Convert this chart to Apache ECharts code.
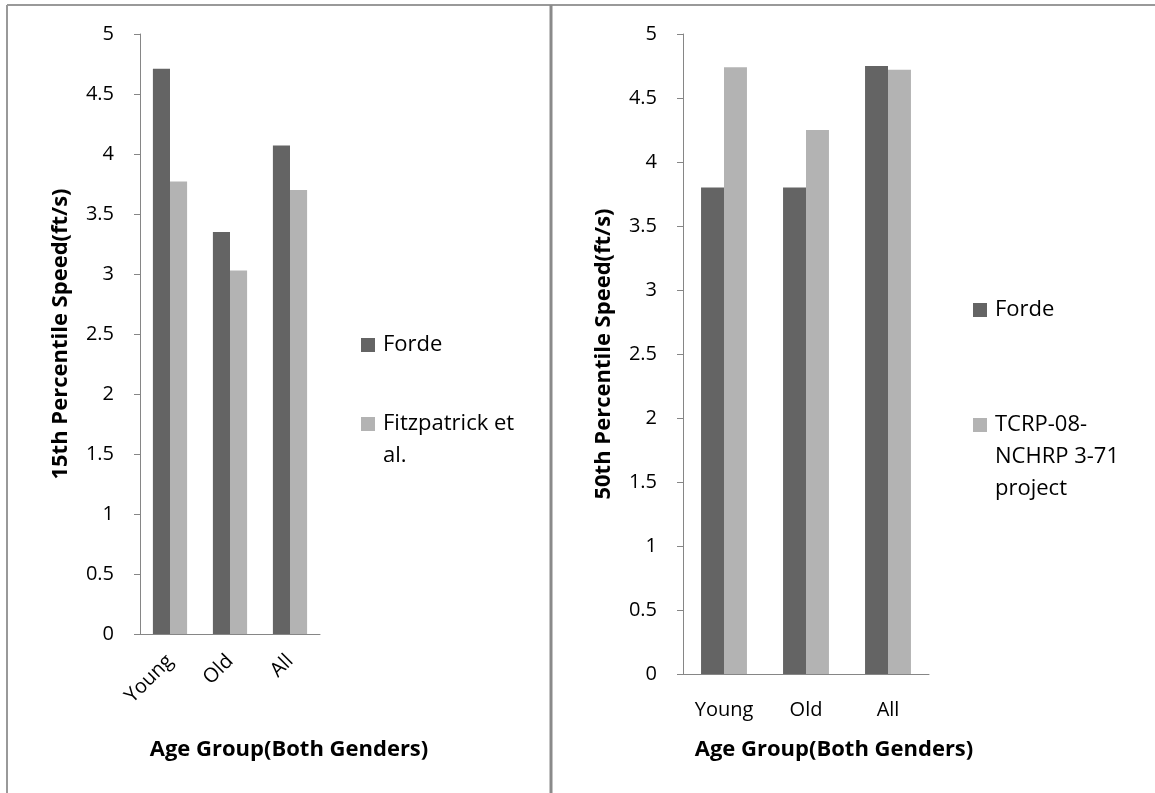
<!DOCTYPE html>
<html>
<head>
<meta charset="utf-8">
<script src="https://cdn.jsdelivr.net/npm/echarts@6/dist/echarts.min.js"></script>
<style>
html, body { margin: 0; padding: 0; background: #fff; }
#main { width: 1155px; height: 793px; }
</style>
</head>
<body>
<div id="main"></div>
<script>
// data
var categories = ['Young', 'Old', 'All'];

var leftNames = ['Forde', 'Fitzpatrick et al.'];
var leftForde = [4.71, 3.35, 4.07];
var leftFitz = [3.77, 3.03, 3.70];

var rightNames = ['Forde', 'TCRP-08-NCHRP 3-71 project'];
var rightForde = [3.80, 3.80, 4.75];
var rightTcrp = [4.74, 4.25, 4.72];

var leftYTitle = '15th Percentile Speed(ft/s)';
var rightYTitle = '50th Percentile Speed(ft/s)';
var xTitle = 'Age Group(Both Genders)';

var darkGray = '#646464';
var lightGray = '#b3b3b3';
var axisGray = '#868686';
var font = 'Open Sans';

function yAxis(gridIndex, title) {
    return {
        type: 'value',
        gridIndex: gridIndex,
        min: 0,
        max: 5,
        interval: 0.5,
        name: title,
        nameLocation: 'middle',
        nameGap: 68,
        nameTextStyle: { fontFamily: font, fontSize: 22, fontWeight: 'bold', color: '#000' },
        axisLine: { show: true, lineStyle: { color: axisGray, width: 1 } },
        axisTick: { show: true, length: 6, lineStyle: { color: axisGray } },
        splitLine: { show: false },
        axisLabel: { fontFamily: font, fontSize: 20, color: '#000', margin: 26 }
    };
}

function xAxis(gridIndex, rotate, margin) {
    return {
        type: 'category',
        gridIndex: gridIndex,
        data: categories,
        axisLine: { lineStyle: { color: axisGray, width: 1 } },
        axisTick: { show: false },
        axisLabel: { fontFamily: font, fontSize: 20, color: '#000', rotate: rotate, margin: margin, interval: 0 }
    };
}

function bar(name, idx, values, color, gap) {
    return {
        type: 'bar',
        name: name,
        xAxisIndex: idx,
        yAxisIndex: idx,
        data: values,
        barGap: 0,
        barCategoryGap: gap,
        itemStyle: { color: color }
    };
}

// legend drawn like the Excel one: marker level with the first text line
function legendItems(names, colors, x, ys) {
    var out = [];
    var wrapped = {
        'Fitzpatrick et al.': 'Fitzpatrick et\nal.',
        'TCRP-08-NCHRP 3-71 project': 'TCRP-08-\nNCHRP 3-71\nproject'
    };
    for (var i = 0; i < names.length; i++) {
        out.push({
            type: 'rect',
            shape: { x: x, y: ys[i] - 7, width: 14, height: 14 },
            style: { fill: colors[i] }
        });
        out.push({
            type: 'text',
            x: x + 22,
            y: ys[i] - 16,
            style: {
                text: wrapped[names[i]] || names[i],
                font: '22px "' + font + '"',
                lineHeight: 32,
                fill: '#000',
                verticalAlign: 'top'
            }
        });
    }
    return out;
}

var myChart = echarts.init(document.getElementById('main'));

var option = {
    animation: false,
    grid: [
        { left: 140, top: 34, width: 180, height: 600 },
        { left: 683, top: 34, width: 246, height: 640 }
    ],
    xAxis: [xAxis(0, 45, 24), xAxis(1, 0, 26)],
    yAxis: [yAxis(0, leftYTitle), yAxis(1, rightYTitle)],
    series: [
        bar(leftNames[0], 0, leftForde, darkGray, '43%'),
        bar(leftNames[1], 0, leftFitz, lightGray, '43%'),
        bar(rightNames[0], 1, rightForde, darkGray, '44%'),
        bar(rightNames[1], 1, rightTcrp, lightGray, '44%')
    ],
    graphic: [
        // table cell borders
        { type: 'line', shape: { x1: 7, y1: 5, x2: 1155, y2: 5 }, style: { stroke: '#999', lineWidth: 2 } },
        { type: 'line', shape: { x1: 7, y1: 5, x2: 7, y2: 793 }, style: { stroke: '#999', lineWidth: 2 } },
        { type: 'line', shape: { x1: 551, y1: 5, x2: 551, y2: 793 }, style: { stroke: '#8a8a8a', lineWidth: 3 } },
        // x axis titles
        {
            type: 'text', x: 289, y: 750,
            style: { text: xTitle, font: 'bold 22px "' + font + '"', fill: '#000', align: 'center', verticalAlign: 'middle' }
        },
        {
            type: 'text', x: 834, y: 750,
            style: { text: xTitle, font: 'bold 22px "' + font + '"', fill: '#000', align: 'center', verticalAlign: 'middle' }
        }
    ].concat(
        legendItems(leftNames, [darkGray, lightGray], 361, [345, 424]),
        legendItems(rightNames, [darkGray, lightGray], 973, [310, 425])
    )
};

myChart.setOption(option);
</script>
</body>
</html>
